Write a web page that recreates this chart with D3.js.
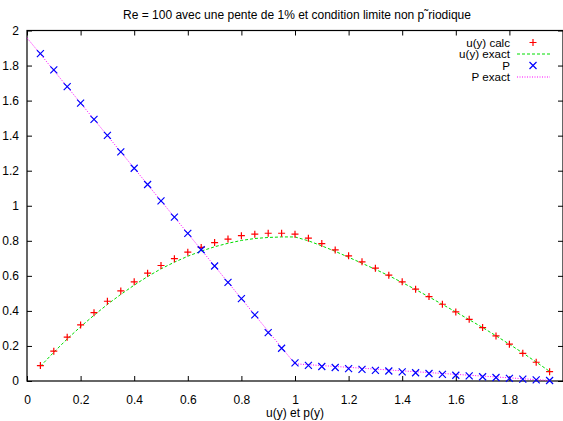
<!DOCTYPE html>
<html>
<head>
<meta charset="utf-8">
<script src="https://cdn.jsdelivr.net/npm/d3@7/dist/d3.min.js"></script>
<style>
  html, body { margin: 0; padding: 0; background: #fff; overflow: hidden; }
  svg { display: block; font-family: "Liberation Sans", Arial, Helvetica, sans-serif; }
</style>
</head>
<body>
<svg id="chart" width="563" height="421"></svg>
<script>
// Sample positions (y) for the computed profiles
const yCalc = [0.05, 0.10, 0.15, 0.20, 0.25, 0.30, 0.35, 0.40, 0.45, 0.50,
               0.55, 0.60, 0.65, 0.70, 0.75, 0.80, 0.85, 0.90, 0.95, 1.00,
               1.05, 1.10, 1.15, 1.20, 1.25, 1.30, 1.35, 1.40, 1.45, 1.50,
               1.55, 1.60, 1.65, 1.70, 1.75, 1.80, 1.85, 1.90, 1.95];

// Computed velocity u(y)
const uCalc = [0.088, 0.170, 0.250, 0.320, 0.390, 0.455, 0.514, 0.566, 0.615, 0.659,
               0.698, 0.735, 0.762, 0.790, 0.810, 0.829, 0.838, 0.843, 0.843, 0.838,
               0.815, 0.784, 0.748, 0.714, 0.680, 0.644, 0.604, 0.566, 0.524, 0.482,
               0.438, 0.394, 0.352, 0.305, 0.257, 0.210, 0.158, 0.107, 0.053];

// Analytical velocity u(y)
const yUExact = yCalc;
const uExact = [0.084, 0.164, 0.240, 0.310, 0.375, 0.437, 0.494, 0.547, 0.596, 0.640,
                0.678, 0.712, 0.741, 0.766, 0.786, 0.802, 0.813, 0.819, 0.822, 0.822,
                0.800, 0.771, 0.740, 0.706, 0.672, 0.637, 0.601, 0.562, 0.522, 0.480,
                0.437, 0.394, 0.350, 0.305, 0.258, 0.210, 0.160, 0.108, 0.055];

// Computed pressure P
const pCalc = [1.868, 1.775, 1.680, 1.586, 1.493, 1.402, 1.307, 1.214, 1.121, 1.028,
               0.935, 0.842, 0.749, 0.656, 0.563, 0.470, 0.377, 0.276, 0.187, 0.103,
               0.089, 0.083, 0.077, 0.071, 0.066, 0.061, 0.057, 0.052, 0.047, 0.043,
               0.038, 0.033, 0.029, 0.024, 0.020, 0.015, 0.011, 0.006, 0.003];

// Analytical pressure P
const yPExact = [0.00, 0.05, 0.10, 0.15, 0.20, 0.25, 0.30, 0.35, 0.40, 0.45, 0.50,
                 0.55, 0.60, 0.65, 0.70, 0.75, 0.80, 0.85, 0.90, 0.95, 1.00,
                 1.05, 1.10, 1.15, 1.20, 1.25, 1.30, 1.35, 1.40, 1.45, 1.50,
                 1.55, 1.60, 1.65, 1.70, 1.75, 1.80, 1.85, 1.90, 1.95];
const pExact = [1.958, 1.865, 1.772, 1.679, 1.586, 1.493, 1.400, 1.307, 1.214, 1.121, 1.028,
                0.935, 0.842, 0.749, 0.656, 0.563, 0.470, 0.377, 0.284, 0.191, 0.098,
                0.093, 0.088, 0.083, 0.078, 0.073, 0.068, 0.063, 0.058, 0.053, 0.048,
                0.043, 0.038, 0.033, 0.028, 0.023, 0.018, 0.013, 0.008, 0.003];

// Tick positions; the last x tick sits on the window edge and carries no label
const xTicks = [0, 0.2, 0.4, 0.6, 0.8, 1, 1.2, 1.4, 1.6, 1.8, 2];
const xTickLabels = ["0", "0.2", "0.4", "0.6", "0.8", "1", "1.2", "1.4", "1.6", "1.8", ""];
const yTicks = [0, 0.2, 0.4, 0.6, 0.8, 1, 1.2, 1.4, 1.6, 1.8, 2];
const yTickLabels = ["0", "0.2", "0.4", "0.6", "0.8", "1", "1.2", "1.4", "1.6", "1.8", "2"];

const titleText = "Re = 100 avec une pente de 1% et condition limite non p\u02DCriodique";
const xLabel = "u(y) et p(y)";
const legendLabels = ["u(y) calc", "u(y) exact", "P", "P exact"];

const svg = d3.select("#chart");
const plotLeft = 27, plotRight = 563, plotTop = 30.5, plotBottom = 381;

const x = d3.scaleLinear().domain([0, 2]).range([plotLeft, plotRight]);
const y = d3.scaleLinear().domain([0, 2]).range([plotBottom, plotTop]);

const tickLen = 5;

// Axes: bottom/left with labels, top/right mirrored ticks, all pointing inward
const axB = svg.append("g").attr("transform", `translate(0,${plotBottom})`)
  .call(d3.axisBottom(x).tickValues(xTicks).tickFormat((d, i) => xTickLabels[i])
    .tickSizeInner(-tickLen).tickSizeOuter(0).tickPadding(14));
const axT = svg.append("g").attr("transform", `translate(0,${plotTop})`)
  .call(d3.axisTop(x).tickValues(xTicks).tickFormat("").tickSizeInner(-tickLen).tickSizeOuter(0));
const axL = svg.append("g").attr("transform", `translate(${plotLeft},0)`)
  .call(d3.axisLeft(y).tickValues(yTicks).tickFormat((d, i) => yTickLabels[i])
    .tickSizeInner(-tickLen).tickSizeOuter(0).tickPadding(8));
const axR = svg.append("g").attr("transform", `translate(${plotRight},0)`)
  .call(d3.axisRight(y).tickValues(yTicks).tickFormat("").tickSizeInner(-tickLen).tickSizeOuter(0));

[axB, axT, axL, axR].forEach(g => {
  g.select(".domain").remove();
  g.selectAll(".tick line").attr("stroke", "#000").attr("stroke-width", 1);
  g.selectAll("text").attr("fill", "#000").attr("font-size", 12)
    .attr("font-family", "Liberation Sans, Arial, sans-serif");
});
axB.selectAll(".tick text").filter(function () { return this.textContent === ""; }).remove();

// Plot frame
svg.append("rect")
  .attr("x", plotLeft).attr("y", plotTop)
  .attr("width", plotRight - plotLeft).attr("height", plotBottom - plotTop)
  .attr("fill", "none").attr("stroke", "#000").attr("stroke-width", 1.2);

// Title and axis label
svg.append("text").attr("x", 297).attr("y", 19).attr("text-anchor", "middle")
  .attr("font-size", 12).attr("fill", "#000").text(titleText);
svg.append("text").attr("x", 295).attr("y", 417).attr("text-anchor", "middle")
  .attr("font-size", 12).attr("fill", "#000").text(xLabel);

const plot = svg.append("g");

const line = d3.line().x(d => x(d[0])).y(d => y(d[1]));

// Analytical curves
plot.append("path")
  .datum(d3.zip(yUExact, uExact))
  .attr("d", line).attr("fill", "none")
  .attr("stroke", "#00dd00").attr("stroke-width", 1).attr("stroke-dasharray", "3,2");

plot.append("path")
  .datum(d3.zip(yPExact, pExact))
  .attr("d", line).attr("fill", "none")
  .attr("stroke", "#ff00ff").attr("stroke-width", 1).attr("stroke-dasharray", "1,1.5");

// Markers
const s = 3.5;
const plusPath = (cx, cy) => `M${cx - s},${cy}H${cx + s}M${cx},${cy - s}V${cy + s}`;
const crossPath = (cx, cy) => `M${cx - s},${cy - s}L${cx + s},${cy + s}M${cx - s},${cy + s}L${cx + s},${cy - s}`;

plot.selectAll("path.ucalc").data(d3.zip(yCalc, uCalc)).join("path")
  .attr("class", "ucalc")
  .attr("d", d => plusPath(x(d[0]), y(d[1])))
  .attr("stroke", "#ff0000").attr("stroke-width", 1.2).attr("fill", "none");

plot.selectAll("path.pcalc").data(d3.zip(yCalc, pCalc)).join("path")
  .attr("class", "pcalc")
  .attr("d", d => crossPath(x(d[0]), y(d[1])))
  .attr("stroke", "#0000ff").attr("stroke-width", 1.2).attr("fill", "none");

// Legend (tightly stacked rows, slightly smaller type)
const legRowY = [42.5, 54, 65.5, 77];
const leg = svg.append("g");
legendLabels.forEach((lab, i) => {
  leg.append("text").attr("x", 510).attr("y", legRowY[i]).attr("dy", "0.35em")
    .attr("text-anchor", "end").attr("font-size", 11.6).attr("fill", "#000").text(lab);
});
leg.append("path").attr("d", plusPath(533, legRowY[0]))
  .attr("stroke", "#ff0000").attr("stroke-width", 1.2);
leg.append("line").attr("x1", 517).attr("x2", 550).attr("y1", legRowY[1]).attr("y2", legRowY[1])
  .attr("stroke", "#00dd00").attr("stroke-dasharray", "3,2");
leg.append("path").attr("d", crossPath(533, legRowY[2]))
  .attr("stroke", "#0000ff").attr("stroke-width", 1.2);
leg.append("line").attr("x1", 517).attr("x2", 550).attr("y1", legRowY[3]).attr("y2", legRowY[3])
  .attr("stroke", "#ff00ff").attr("stroke-dasharray", "1,1.5");
</script>
</body>
</html>
